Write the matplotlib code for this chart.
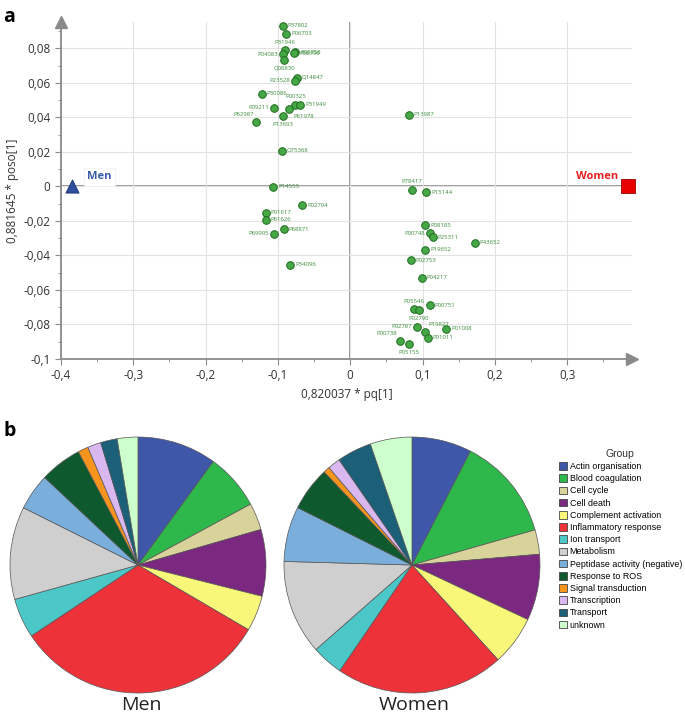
" PLS loadings scatter + functional group pies "
import matplotlib
matplotlib.use("Agg")
import matplotlib.pyplot as plt
from matplotlib.patches import Patch
from matplotlib.ticker import FixedLocator, FuncFormatter

plt.rcParams.update({'font.family': ['Open Sans', 'DejaVu Sans']})

# ---- panel a data ----
prot_ids = ["P37802", "P06703", "P31946", "P04083", "P08758", "P06396",
            "Q06830", "Q14847", "P23528", "P30086", "P00325", "P31949",
            "P61978", "P09211", "P13693", "P62987",
            "O75368", "P14555", "P02794", "P01617", "P61626", "P68871",
            "P69905", "P34096",
            "P13987", "P78417", "P15144",
            "P08185", "P00748", "P25311", "P43652", "P19652", "P02753",
            "P04217", "P00751", "P05546", "P02790", "P02787", "P19827",
            "P01008", "P01011", "P00738", "P05155"]
pq1 = [-0.093, -0.0885, -0.0908, -0.093, -0.076, -0.0775,
       -0.091, -0.0742, -0.076, -0.122, -0.076, -0.069,
       -0.084, -0.105, -0.093, -0.130,
       -0.0945, -0.1065, -0.066, -0.117, -0.117, -0.092,
       -0.105, -0.0826,
       0.0807, 0.0853, 0.105,
       0.1037, 0.1107, 0.114, 0.172, 0.1037, 0.084,
       0.0992, 0.1097, 0.0885, 0.095, 0.0918, 0.1037,
       0.1328, 0.107, 0.0692, 0.0816]
poso1 = [0.0930, 0.0884, 0.0790, 0.0765, 0.0778, 0.0771,
         0.0732, 0.0630, 0.0613, 0.0536, 0.0472, 0.0472,
         0.0447, 0.0455, 0.0405, 0.0372,
         0.0206, -0.0002, -0.0110, -0.0154, -0.0193, -0.0249,
         -0.0275, -0.0453,
         0.0416, -0.0019, -0.0035,
         -0.0225, -0.0273, -0.0295, -0.0327, -0.0366, -0.0428,
         -0.0530, -0.0688, -0.0713, -0.0719, -0.0813, -0.0847,
         -0.0824, -0.0878, -0.0898, -0.0915]
# where each protein label sits relative to its point
label_side = ["r", "r", "a", "l", "r", "r",
              "b", "r", "l", "r", "a", "r",
              "rb", "l", "b", "al",
              "r", "r", "r", "r", "r", "r",
              "l", "r",
              "r", "a", "r",
              "r", "l", "r", "r", "r", "r",
              "r", "r", "a", "b", "l", "ar",
              "r", "r", "al", "b"]
class_names = ["Men", "Women"]
class_x = [-0.385, 0.3845]
class_y = [0.0, 0.0]

# ---- panel b data ----
groups = ["Actin organisation", "Blood coagulation", "Cell cycle", "Cell death",
          "Complement activation", "Inflammatory response", "Ion transport",
          "Metabolism", "Peptidase activity (negative)", "Response to ROS",
          "Signal transduction", "Transcription", "Transport", "unknown"]
men_share = [10.0, 7.1, 3.4, 8.4, 4.5, 32.2, 5.0, 11.7, 4.6, 5.3, 1.3, 1.7, 2.1, 2.6]
women_share = [7.6, 13.1, 3.1, 8.4, 6.3, 21.4, 4.0, 12.0, 7.0, 5.6, 0.8, 1.6, 4.4, 5.3]
group_colors = ["#3F57A8", "#2EB84B", "#D8D39A", "#7B2880", "#F8F77A", "#EE323A",
                "#4CC7C8", "#CFCFCF", "#7AAEDB", "#0E5A2E", "#F7941D", "#D9B8F0",
                "#1C5F78", "#CCFFCC"]

fig = plt.figure(figsize=(6.85, 7.25), dpi=100)

# ---------------- panel a ----------------
ax = fig.add_axes([0.089, 0.505, 0.834, 0.464])
ax.set_xlim(-0.4, 0.39)
ax.set_ylim(-0.1, 0.095)
for s in ["top", "right"]:
    ax.spines[s].set_visible(False)
for s in ["left", "bottom"]:
    ax.spines[s].set_color("#8a8a8a")
    ax.spines[s].set_linewidth(1.3)

ax.xaxis.set_major_locator(FixedLocator([-0.4, -0.3, -0.2, -0.1, 0, 0.1, 0.2, 0.3]))
ax.xaxis.set_minor_locator(FixedLocator([-0.35, -0.25, -0.15, -0.05, 0.05, 0.15, 0.25, 0.35]))
ax.yaxis.set_major_locator(FixedLocator([-0.1, -0.08, -0.06, -0.04, -0.02, 0, 0.02, 0.04, 0.06, 0.08]))
ax.yaxis.set_minor_locator(FixedLocator([-0.09, -0.07, -0.05, -0.03, -0.01, 0.01, 0.03, 0.05, 0.07, 0.09]))


def comma_fmt(v, pos):
    if abs(v) < 1e-9:
        return "0"
    s = ("%.2f" % v).rstrip("0").replace(".", ",")
    return s


ax.xaxis.set_major_formatter(FuncFormatter(comma_fmt))
ax.yaxis.set_major_formatter(FuncFormatter(comma_fmt))
ax.tick_params(which="both", direction="out", colors="#8a8a8a", labelcolor="#333333",
               labelsize=8.5)
ax.tick_params(which="major", length=4)
ax.tick_params(which="minor", length=2.5)

ax.grid(True, which="major", color="#e2e2e2", lw=0.8, zorder=0)
ax.axhline(0, color="#8a8a8a", lw=1.2, zorder=1)
ax.axvline(0, color="#8a8a8a", lw=1.2, zorder=1)

# axis arrows
ax.plot([-0.4], [0.095], marker="^", ms=8, color="#8a8a8a", clip_on=False, zorder=5)
ax.plot([0.39], [-0.1], marker=">", ms=8, color="#8a8a8a", clip_on=False, zorder=5)

ax.scatter(pq1, poso1, s=30, c="#45A845", edgecolors="#1F6B1F", linewidths=0.7, zorder=4)

offs = {"r": ((3.5, 0), "left", "center"), "l": ((-3.5, 0), "right", "center"),
        "a": ((0, 4), "center", "bottom"), "b": ((0, -4), "center", "top"),
        "rb": ((3, -3.5), "left", "top"), "al": ((-2, 4), "right", "bottom"),
        "ar": ((2, 4), "left", "bottom")}
for pid, x, y, side in zip(prot_ids, pq1, poso1, label_side):
    off, ha, va = offs[side]
    ax.annotate(pid, (x, y), xytext=off, textcoords="offset points",
                ha=ha, va=va, fontsize=4.3, color="#3C8C3C", zorder=6)

ax.scatter([class_x[0]], [class_y[0]], marker="^", s=90, c="#2E4E9E",
           edgecolors="#1A2F6E", linewidths=0.6, zorder=6, clip_on=False)
ax.scatter([class_x[1]], [class_y[1]], marker="s", s=110, c="#E60000",
           edgecolors="#990000", linewidths=0.6, zorder=6, clip_on=False)
ax.annotate(class_names[0], (class_x[0], class_y[0]), xytext=(11, 3), textcoords="offset points",
            ha="left", va="bottom", fontsize=8, fontweight="bold", color="#3A5BA8",
            bbox=dict(boxstyle="square,pad=0.3", fc="white", ec="#f0f0f0", lw=0.5))
ax.annotate(class_names[1], (class_x[1], class_y[1]), xytext=(-7, 3), textcoords="offset points",
            ha="right", va="bottom", fontsize=8, fontweight="bold", color="#E62020")

ax.set_xlabel("0,820037 * pq[1]", fontsize=8.5, color="#333333", labelpad=4)
ax.set_ylabel("0,881645 * poso[1]", fontsize=8.5, color="#333333", labelpad=3)

fig.text(0.005, 0.99, "a", fontsize=14, fontweight="bold", va="top")
fig.text(0.005, 0.42, "b", fontsize=14, fontweight="bold", va="top")

# ---------------- panel b ----------------
pie_kw = dict(colors=group_colors, startangle=90, counterclock=False,
              wedgeprops=dict(edgecolor="#555555", linewidth=0.5))
ax_m = fig.add_axes([0.0146, 0.0441, 0.3737, 0.3531])
ax_m.pie(men_share, **pie_kw)
ax_m.set_xlim(-1, 1)
ax_m.set_ylim(-1, 1)
ax_w = fig.add_axes([0.4146, 0.0441, 0.3737, 0.3531])
ax_w.pie(women_share, **pie_kw)
ax_w.set_xlim(-1, 1)
ax_w.set_ylim(-1, 1)

fig.text(0.207, 0.028, "Men", fontsize=14, ha="center", va="center", color="#222222")
fig.text(0.605, 0.028, "Women", fontsize=14, ha="center", va="center", color="#222222")

handles = [Patch(facecolor=c, edgecolor="#444444", linewidth=0.6) for c in group_colors]
leg = fig.legend(handles, groups, loc="upper left", bbox_to_anchor=(0.809, 0.387),
                 frameon=False, prop={"family": "Liberation Sans", "size": 6.4},
                 title="Group", title_fontproperties={"family": "Liberation Sans", "size": 7.5},
                 handlelength=0.95, handleheight=0.95, handletextpad=0.3,
                 labelspacing=0.36, borderpad=0)
leg.get_title().set_color("#333333")

fig.savefig("out.png", dpi=100)
